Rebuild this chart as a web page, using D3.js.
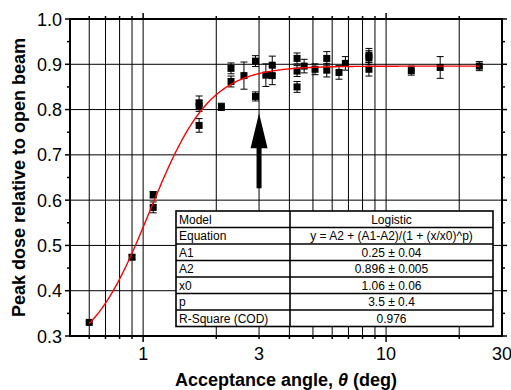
<!DOCTYPE html>
<html>
<head>
<meta charset="utf-8">
<script src="https://cdn.jsdelivr.net/npm/d3@7"></script>
<style>
  html, body { margin: 0; padding: 0; background: #fff; }
  svg { display: block; font-family: "Liberation Sans", Arial, sans-serif; }
</style>
</head>
<body>
<svg id="chart" width="511" height="390"></svg>
<script>
// Measured peak dose (relative to open beam) vs acceptance angle (deg)
const angles = [0.6, 0.9, 1.1, 1.1, 1.7, 1.7, 1.7, 2.1, 2.3, 2.3, 2.6, 2.9, 2.9,
                3.2, 3.4, 3.4, 4.3, 4.3, 4.3, 4.6, 5.1, 5.7, 5.7, 6.4, 6.8,
                8.5, 8.5, 8.5, 12.7, 16.7, 24.2];
const doses = [0.330, 0.474, 0.612, 0.584, 0.815, 0.808, 0.765, 0.806, 0.891, 0.862, 0.875, 0.907, 0.829,
               0.876, 0.898, 0.875, 0.913, 0.885, 0.850, 0.896, 0.889, 0.913, 0.887, 0.882, 0.902,
               0.920, 0.915, 0.889, 0.886, 0.893, 0.896];
const doseErrors = [0.003, 0.005, 0.007, 0.012, 0.015, 0.012, 0.015, 0.008, 0.012, 0.012, 0.030, 0.012, 0.010,
                    0.025, 0.020, 0.020, 0.012, 0.012, 0.012, 0.015, 0.012, 0.015, 0.015, 0.015, 0.015,
                    0.015, 0.015, 0.015, 0.010, 0.024, 0.010];

// Logistic fit parameters
const fitA1 = 0.25, fitA2 = 0.896, fitX0 = 1.06, fitP = 3.5;

const xTickLabels = [1, 3, 10, 30];
const xGridValues = [0.6, 0.7, 0.8, 0.9, 1, 2, 3, 4, 5, 6, 7, 8, 9, 10, 20];
const yTickLabels = [0.3, 0.4, 0.5, 0.6, 0.7, 0.8, 0.9, 1.0];

const tableRows = [
  ["Model", "Logistic"],
  ["Equation", "y = A2 + (A1-A2)/(1 + (x/x0)^p)"],
  ["A1", "0.25 \u00b1 0.04"],
  ["A2", "0.896 \u00b1 0.005"],
  ["x0", "1.06 \u00b1 0.06"],
  ["p", "3.5 \u00b1 0.4"],
  ["R-Square (COD)", "0.976"]
];

// Arrow marking the 3 degree acceptance angle
const arrowAngle = 3, arrowTip = 0.792, arrowTail = 0.626;

(function () {
const svg = d3.select("#chart");
const pL = 70, pR = 502, pT = 19, pB = 336;

const x = d3.scaleLog().domain([0.5, 30]).range([pL, pR]);
const y = d3.scaleLinear().domain([0.3, 1.0]).range([pB, pT]);

// grid
const grid = svg.append("g").attr("stroke", "#000").attr("stroke-width", 1);
grid.selectAll("line.v").data(xGridValues).join("line").attr("class", "v")
  .attr("x1", d => x(d)).attr("x2", d => x(d))
  .attr("y1", pT).attr("y2", pB);
grid.selectAll("line.h").data(d3.range(0.4, 0.95, 0.1)).join("line").attr("class", "h")
  .attr("x1", pL).attr("x2", pR)
  .attr("y1", d => y(d)).attr("y2", d => y(d));

// fitted logistic curve
const fit = t => fitA2 + (fitA1 - fitA2) / (1 + Math.pow(t / fitX0, fitP));
const xMin = d3.min(angles), xMax = d3.max(angles);
const curvePts = d3.range(0, 301).map(i => {
  const t = Math.exp(Math.log(xMin) + (Math.log(xMax) - Math.log(xMin)) * i / 300);
  return [t, fit(t)];
});

// error bars
const pts = angles.map((a, i) => ({ a, v: doses[i], e: doseErrors[i] }));
const eb = svg.append("g").attr("stroke", "#000").attr("stroke-width", 1).attr("fill", "none");
pts.forEach(p => {
  const cx = x(p.a), y1 = y(p.v + p.e), y2 = y(p.v - p.e);
  eb.append("line").attr("x1", cx).attr("x2", cx).attr("y1", y1).attr("y2", y2);
  eb.append("line").attr("x1", cx - 3.5).attr("x2", cx + 3.5).attr("y1", y1).attr("y2", y1);
  eb.append("line").attr("x1", cx - 3.5).attr("x2", cx + 3.5).attr("y1", y2).attr("y2", y2);
});

// markers
svg.append("g").selectAll("rect").data(pts).join("rect")
  .attr("x", d => x(d.a) - 3.5).attr("y", d => y(d.v) - 3.5)
  .attr("width", 7).attr("height", 7).attr("fill", "#000");

svg.append("path")
  .attr("d", d3.line().x(d => x(d[0])).y(d => y(d[1]))(curvePts))
  .attr("fill", "none").attr("stroke", "#f00").attr("stroke-width", 1.4);

// arrow
const ax = x(arrowAngle), yt = y(arrowTip), yb = y(arrowTail), headBase = yt + 35;
svg.append("path")
  .attr("d", `M${ax},${yt} L${ax + 8.5},${headBase} L${ax + 2.5},${headBase} L${ax + 2.5},${yb} L${ax - 2.5},${yb} L${ax - 2.5},${headBase} L${ax - 8.5},${headBase} Z`)
  .attr("fill", "#000");

// table
const tblX = 176, tblY = 211, tblW = 317, rowH = 16.5, col2 = 290;
const tbl = svg.append("g");
tbl.append("rect").attr("x", tblX).attr("y", tblY).attr("width", tblW).attr("height", rowH * tableRows.length)
  .attr("fill", "#fff").attr("stroke", "#000").attr("stroke-width", 1.6);
tableRows.forEach((r, i) => {
  const ry = tblY + i * rowH;
  if (i > 0) tbl.append("line").attr("x1", tblX).attr("x2", tblX + tblW).attr("y1", ry).attr("y2", ry)
    .attr("stroke", "#000").attr("stroke-width", 1.6);
  tbl.append("text").attr("x", tblX + 3).attr("y", ry + rowH - 4).attr("font-size", 12).text(r[0]);
  tbl.append("text").attr("x", (col2 + tblX + tblW) / 2).attr("y", ry + rowH - 4).attr("font-size", 12)
    .attr("text-anchor", "middle").text(r[1]);
});
tbl.append("line").attr("x1", col2).attr("x2", col2).attr("y1", tblY).attr("y2", tblY + rowH * tableRows.length)
  .attr("stroke", "#000").attr("stroke-width", 1.6);

// axes: frame and ticks
const frame = svg.append("g").attr("stroke", "#000").attr("stroke-width", 2).attr("fill", "none");
frame.append("rect").attr("x", pL).attr("y", pT).attr("width", pR - pL).attr("height", pB - pT);

const xMinor = [0.6, 0.7, 0.8, 0.9, 2, 3, 4, 5, 6, 7, 8, 9, 20];
const xMajor = [1, 10];
const tk = svg.append("g").attr("stroke", "#000").attr("stroke-width", 1.5);
xMinor.forEach(v => {
  tk.append("line").attr("x1", x(v)).attr("x2", x(v)).attr("y1", pB).attr("y2", pB + 3);
  tk.append("line").attr("x1", x(v)).attr("x2", x(v)).attr("y1", pT).attr("y2", pT - 3);
});
xMajor.forEach(v => {
  tk.append("line").attr("x1", x(v)).attr("x2", x(v)).attr("y1", pB).attr("y2", pB + 6);
  tk.append("line").attr("x1", x(v)).attr("x2", x(v)).attr("y1", pT).attr("y2", pT - 6);
});
yTickLabels.forEach(v => {
  tk.append("line").attr("x1", pL).attr("x2", pL - 5).attr("y1", y(v)).attr("y2", y(v));
  tk.append("line").attr("x1", pR).attr("x2", pR + 5).attr("y1", y(v)).attr("y2", y(v));
});
d3.range(0.35, 1.0, 0.1).forEach(v => {
  tk.append("line").attr("x1", pL).attr("x2", pL - 3).attr("y1", y(v)).attr("y2", y(v));
  tk.append("line").attr("x1", pR).attr("x2", pR + 3).attr("y1", y(v)).attr("y2", y(v));
});

// tick labels
svg.append("g").selectAll("text").data(xTickLabels).join("text")
  .attr("x", d => x(d)).attr("y", 360).attr("text-anchor", "middle")
  .attr("font-size", 18).text(d => d);
svg.append("g").selectAll("text").data(yTickLabels).join("text")
  .attr("x", 62).attr("y", d => y(d) + 6.5).attr("text-anchor", "end")
  .attr("font-size", 18).text(d => d.toFixed(1));

// axis titles
const xt = svg.append("text").attr("x", (pL + pR) / 2).attr("y", 386)
  .attr("text-anchor", "middle").attr("font-size", 18).attr("font-weight", "bold");
xt.append("tspan").text("Acceptance angle, ");
xt.append("tspan").attr("font-style", "italic").text("\u03b8");
xt.append("tspan").text(" (deg)");

svg.append("text").attr("transform", `translate(25,${(pT + pB) / 2}) rotate(-90)`)
  .attr("text-anchor", "middle").attr("font-size", 18).attr("font-weight", "bold")
  .text("Peak dose relative to open beam");
})();
</script>
</body>
</html>
